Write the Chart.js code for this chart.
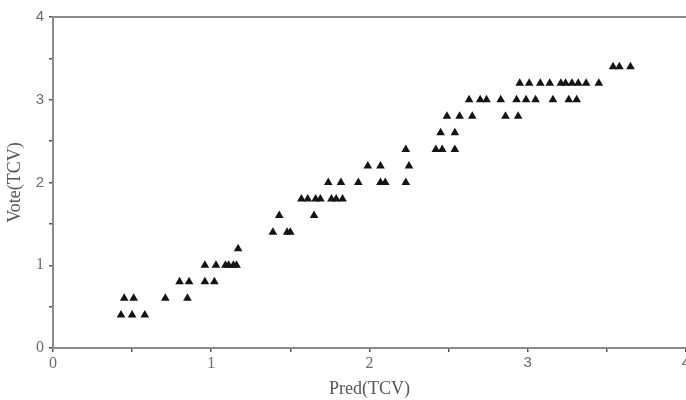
<!DOCTYPE html>
<html>
<head>
<meta charset="utf-8">
<script src="https://cdn.jsdelivr.net/npm/chart.js@4"></script>
<style>
  html, body { margin: 0; padding: 0; background: #fff; overflow: hidden; }
  #wrap { width: 692px; height: 400px; }
</style>
</head>
<body>
<div id="wrap"><canvas id="myChart"></canvas></div>
<script>
// Pred(TCV) values, one array per Vote(TCV) level
var voteLevels = [0.4, 0.6, 0.8, 1.0, 1.2, 1.4, 1.6, 1.8, 2.0, 2.2, 2.4, 2.6, 2.8, 3.0, 3.2, 3.4];
var pred04 = [0.43, 0.50, 0.58];
var pred06 = [0.45, 0.51, 0.71, 0.85];
var pred08 = [0.80, 0.86, 0.96, 1.02];
var pred10 = [0.96, 1.03, 1.09, 1.11, 1.14, 1.16];
var pred12 = [1.17];
var pred14 = [1.39, 1.48, 1.50];
var pred16 = [1.43, 1.65];
var pred18 = [1.57, 1.61, 1.66, 1.69, 1.76, 1.79, 1.83];
var pred20 = [1.74, 1.82, 1.93, 2.07, 2.10, 2.23];
var pred22 = [1.99, 2.07, 2.25];
var pred24 = [2.23, 2.42, 2.46, 2.54];
var pred26 = [2.45, 2.54];
var pred28 = [2.49, 2.57, 2.65, 2.86, 2.94];
var pred30 = [2.63, 2.70, 2.74, 2.83, 2.93, 2.99, 3.05, 3.16, 3.26, 3.31];
var pred32 = [2.95, 3.01, 3.08, 3.14, 3.21, 3.24, 3.28, 3.32, 3.37, 3.45];
var pred34 = [3.54, 3.58, 3.65];
var predByLevel = [pred04, pred06, pred08, pred10, pred12, pred14, pred16, pred18,
                   pred20, pred22, pred24, pred26, pred28, pred30, pred32, pred34];

var points = [];
for (var i = 0; i < voteLevels.length; i++) {
  for (var j = 0; j < predByLevel[i].length; j++) {
    points.push({x: predByLevel[i][j], y: voteLevels[i]});
  }
}

var serif = "'Liberation Serif', 'DejaVu Serif', serif";
var sans = "'Liberation Sans', Arial, sans-serif";

// top frame line
var topLine = {
  id: 'topLine',
  afterDraw: function(chart) {
    var a = chart.chartArea, c = chart.ctx;
    c.save();
    c.strokeStyle = '#8a8a8a';
    c.lineWidth = 2;
    c.beginPath();
    c.moveTo(a.left, a.top);
    c.lineTo(a.right + 2, a.top);
    c.stroke();
    c.restore();
  }
};

// the original mixes serif and sans digits
function xTickFont(ctx) {
  var v = ctx.tick ? ctx.tick.value : 0;
  if (v >= 3) return {family: sans, size: 15};
  return {family: serif, size: 16};
}
function yTickFont(ctx) {
  var v = ctx.tick ? ctx.tick.value : 0;
  if (v >= 2) return {family: sans, size: 15};
  return {family: serif, size: 16};
}

new Chart("myChart", {
  type: "scatter",
  data: {
    datasets: [{
      data: points,
      pointStyle: 'triangle',
      pointRadius: 5,
      pointHoverRadius: 5,
      backgroundColor: '#141414',
      borderColor: '#141414',
      borderWidth: 0
    }]
  },
  options: {
    responsive: true,
    maintainAspectRatio: false,
    animation: false,
    events: [],
    layout: { padding: {top: 17, right: 0, bottom: 0, left: 0} },
    plugins: {
      legend: {display: false},
      tooltip: {enabled: false}
    },
    scales: {
      x: {
        type: 'linear',
        min: 0,
        max: 4,
        border: {color: '#8a8a8a', width: 2},
        grid: {display: true, drawOnChartArea: false, tickLength: 4, color: '#555', lineWidth: 1.5},
        ticks: {
          stepSize: 0.5,
          autoSkip: false,
          maxRotation: 0,
          padding: 2,
          color: '#6a6a6a',
          font: xTickFont,
          callback: function(v) { return Number.isInteger(v) ? String(v) : ''; }
        },
        title: {
          display: true,
          text: 'Pred(TCV)',
          color: '#555',
          font: {family: serif, size: 18},
          padding: {top: 0, bottom: 0}
        },
        afterFit: function(s) {
          s.height = 52;
        }
      },
      y: {
        type: 'linear',
        min: 0,
        max: 4,
        border: {color: '#8a8a8a', width: 2},
        grid: {display: true, drawOnChartArea: false, tickLength: 4, color: '#555', lineWidth: 1.5},
        ticks: {
          stepSize: 0.5,
          autoSkip: false,
          padding: 5,
          color: '#6a6a6a',
          font: yTickFont,
          callback: function(v) { return Number.isInteger(v) ? String(v) : ''; }
        },
        title: {
          display: true,
          text: 'Vote(TCV)',
          color: '#555',
          font: {family: serif, size: 18},
          padding: {top: 4, bottom: 0}
        },
        afterFit: function(s) {
          s.width = 53;
        }
      }
    }
  },
  plugins: [topLine]
});
</script>
</body>
</html>
